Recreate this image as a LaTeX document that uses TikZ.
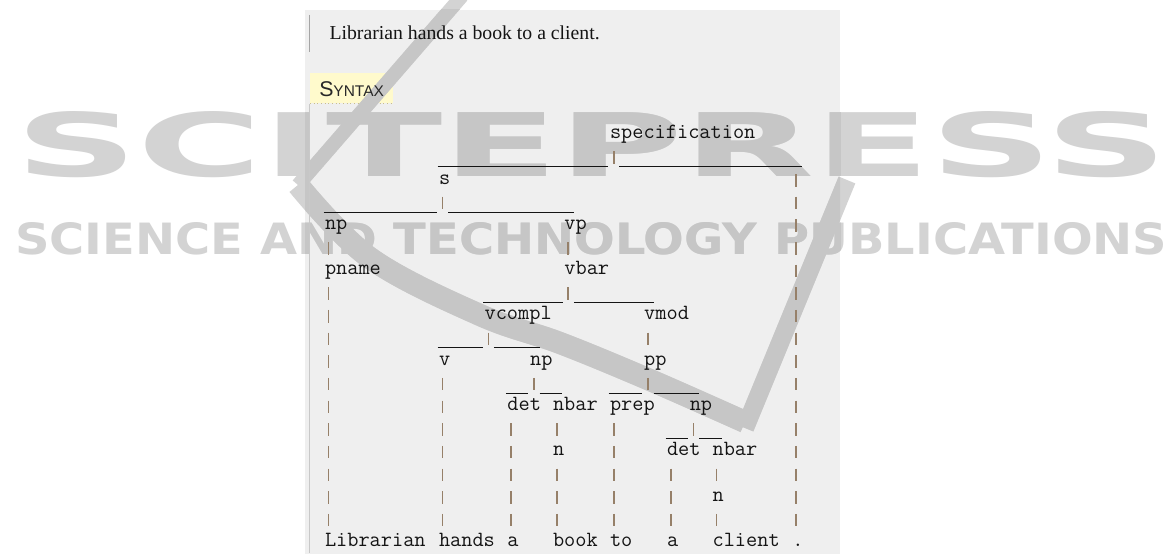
\documentclass[tikz,border=0pt]{standalone}
\usepackage{fontspec}
\usepackage{graphicx}
\setmainfont{Liberation Serif}
\newfontfamily\sansf{Liberation Sans}
\newfontfamily\wmf{DejaVu Sans}
\usetikzlibrary{calc}
\definecolor{panel}{RGB}{239,239,239}
\definecolor{syn}{RGB}{255,250,204}
\definecolor{synline}{RGB}{200,190,140}
\definecolor{pipec}{RGB}{150,128,105}
\definecolor{txt}{RGB}{20,20,20}
\definecolor{edgeA}{RGB}{165,165,165}
\definecolor{edgeB}{RGB}{200,200,200}
\definecolor{wmout}{RGB}{211,211,211}
\definecolor{wmin}{RGB}{198,198,198}
\newcommand\treefont{\fontsize{16.29pt}{17pt}\selectfont\ttfamily}
\tikzset{
  lbl/.style={anchor=base west, inner sep=0pt, outer sep=0pt, font=\treefont, text=txt},
  pipe/.style={draw=pipec, line width=1.1pt, dash pattern=on 9.375pt off 7.6125pt},
  bar/.style={draw=txt, line width=0.8pt},
}
\newcommand\tunary[2]{\draw[pipe] ($(#1.base west)+(0.33,0.5585)$) -- ($(#2.base west)+(0.33,-0.8896)$);}
\newcommand\tbranch[3]{%
  \path ($(#1.base west)+(0,1.234)$) coordinate (U)
        ($(#2.base west)+(-0.13,0)$) coordinate (L)
        ($(#3.base west)+(0.82,0)$) coordinate (R);
  \draw[pipe] ($(#1.base west)+(0.33,0.5585)$) -- ($(#1.base west)+(0.33,1.1104)$);
  \draw[bar] (L |- U) -- ($(U)+(-0.15,0)$);
  \draw[bar] ($(U)+(0.82,0)$) -- (R |- U);
}
\newcommand\wmark[2]{%
  \node[anchor=base west, inner sep=0pt, text=#1] (wmA#2) at (15,177) {\resizebox{864pt}{48.75pt}{\wmf\bfseries SCITEPRESS}};
  \node[anchor=base west, inner sep=0pt, text=#1] (wmB#2) at (15,255) {\resizebox{864pt}{24pt}{\wmf\bfseries SCIENCE AND TECHNOLOGY PUBLICATIONS}};
  \draw[#1, line width=10.5pt] (462,-4) -- (298,185);
  \draw[#1, line width=16.5pt, line join=round] plot[smooth, tension=0.6] coordinates {(298,185) (370,258) (480,315) (560,343) (650,380) (745,422)};
  \draw[#1, line width=13.5pt] (745,428) -- (847,180);
}
\begin{document}
\begin{tikzpicture}[x=0.75pt,y=-0.75pt]
\useasboundingbox (0,0) rectangle (1172,556);
\fill[white] (0,0) rectangle (1172,556);
\node[fill=panel, inner sep=0pt, minimum width=401.25pt, minimum height=408pt, anchor=north west] (pnl) at (305,10) {};
\node[fill=syn, inner sep=0pt, minimum width=62.25pt, minimum height=22.5pt, anchor=north west] (synbox) at (310,73) {};
\draw[synline, dotted, line width=0.75pt] (synbox.south west) -- (synbox.south east);
% watermark
\wmark{wmout}{o}
\begin{scope}
  \clip (305,10) rectangle (840,554);
  \wmark{wmin}{i}
\end{scope}
% borders
\draw[edgeA, line width=0.9pt] (309.5,15) -- (309.5,52);
\draw[edgeB, line width=0.9pt] (309.5,104) -- (309.5,553);
% header
\node[anchor=base west, inner sep=0pt, font=\fontsize{14.8pt}{16pt}\selectfont, text=txt] (title) at (329.3,39.5) {Librarian hands a book to a client.};
\node[anchor=base west, inner sep=0pt, text={rgb,255:red,40;green,40;blue,40}] (syntax) at (319,96.5) {\sansf\fontsize{16pt}{16pt}\selectfont S\fontsize{11.6pt}{12pt}\selectfont YNTAX};
% tree
\begin{scope}[shift={(325,138.8)}, x=8.55pt, y=-16.9875pt]
\node[lbl] (spec) at (25,0) {specification};
\node[lbl] (s) at (10,2) {s};
\node[lbl] (np1) at (0,4) {np};
\node[lbl] (vp) at (21,4) {vp};
\node[lbl] (pname) at (0,6) {pname};
\node[lbl] (vbar) at (21,6) {vbar};
\node[lbl] (vcompl) at (14,8) {vcompl};
\node[lbl] (vmod) at (28,8) {vmod};
\node[lbl] (v) at (10,10) {v};
\node[lbl] (np2) at (18,10) {np};
\node[lbl] (pp) at (28,10) {pp};
\node[lbl] (det1) at (16,12) {det};
\node[lbl] (nbar1) at (20,12) {nbar};
\node[lbl] (prep) at (25,12) {prep};
\node[lbl] (np3) at (32,12) {np};
\node[lbl] (n1) at (20,14) {n};
\node[lbl] (det2) at (30,14) {det};
\node[lbl] (nbar2) at (34,14) {nbar};
\node[lbl] (n2) at (34,16) {n};
\node[lbl] (w1) at (0,18) {Librarian};
\node[lbl] (w2) at (10,18) {hands};
\node[lbl] (w3) at (16,18) {a};
\node[lbl] (w4) at (20,18) {book};
\node[lbl] (w5) at (25,18) {to};
\node[lbl] (w6) at (30,18) {a};
\node[lbl] (w7) at (34,18) {client};
\node[lbl] (w8) at (41,18) {.};
\tbranch{spec}{s}{w8}
\path ($(spec.base west)+(0,1.5585)$) coordinate (T)
      ($(w8.base west)+(0.33,-0.8896)$) coordinate (B);
\draw[pipe] (B |- T) -- (B);
\tbranch{s}{np1}{vp}
\tunary{np1}{pname}
\tunary{pname}{w1}
\tunary{vp}{vbar}
\tbranch{vbar}{vcompl}{vmod}
\tbranch{vcompl}{v}{np2}
\tunary{v}{w2}
\tbranch{np2}{det1}{nbar1}
\tunary{det1}{w3}
\tunary{nbar1}{n1}
\tunary{n1}{w4}
\tunary{vmod}{pp}
\tbranch{pp}{prep}{np3}
\tunary{prep}{w5}
\tbranch{np3}{det2}{nbar2}
\tunary{det2}{w6}
\tunary{nbar2}{n2}
\tunary{n2}{w7}
\end{scope}
\end{tikzpicture}
\end{document}
